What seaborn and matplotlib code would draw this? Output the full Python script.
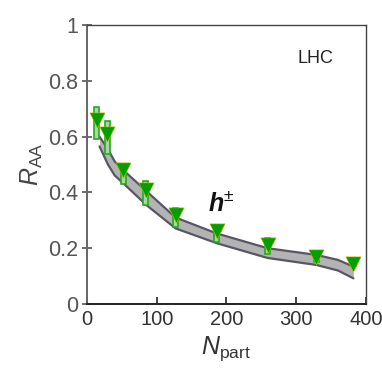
import numpy as np
import pandas as pd
import matplotlib
matplotlib.use("Agg")
import matplotlib.pyplot as plt
import seaborn as sns

# Data
npart = [14, 29, 52, 84, 127, 186, 259, 329, 382]
raa = [0.66, 0.61, 0.48, 0.41, 0.32, 0.26, 0.21, 0.17, 0.145]
sys_lo = [0.592, 0.538, 0.43, 0.355, 0.275, 0.223, 0.178, 0.152, 0.135]
sys_hi = [0.705, 0.655, 0.50, 0.44, 0.345, 0.275, 0.235, 0.19, 0.158]

band_x = [18, 30, 40, 52, 85, 127, 186, 259, 329, 360, 382]
band_hi = [0.60, 0.555, 0.51, 0.48, 0.405, 0.31, 0.253, 0.20, 0.176, 0.158, 0.134]
band_lo = [0.565, 0.50, 0.46, 0.433, 0.355, 0.271, 0.218, 0.165, 0.14, 0.12, 0.092]

sns.set_style("white")
plt.rcParams['font.family'] = ['Liberation Sans', 'DejaVu Sans']
plt.rcParams['mathtext.fontset'] = 'custom'
plt.rcParams['mathtext.rm'] = 'Liberation Sans'
plt.rcParams['mathtext.it'] = 'Liberation Sans:italic'
plt.rcParams['mathtext.bf'] = 'Liberation Sans:bold'
plt.rcParams['mathtext.bfit'] = 'Liberation Sans:bold:italic'
plt.rcParams['xtick.bottom'] = True
plt.rcParams['ytick.left'] = True

fig = plt.figure(figsize=(3.82, 3.75), dpi=100)
ax = fig.add_axes([0.2277, 0.1893, 0.958 - 0.2277, 0.9333 - 0.1893])

ax.fill_between(band_x, band_lo, band_hi, color="#b3b3b3", zorder=1, linewidth=0)
band_df = pd.DataFrame({"x": band_x + band_x,
                        "y": band_hi + band_lo,
                        "which": ["hi"] * len(band_x) + ["lo"] * len(band_x)})
sns.lineplot(data=band_df, x="x", y="y", units="which", estimator=None,
             color="#5a5566", linewidth=1.6, ax=ax, zorder=2)

h = [hi - lo for hi, lo in zip(sys_hi, sys_lo)]
ax.bar(npart, h, bottom=sys_lo, width=7, facecolor="#a8d8a0",
       edgecolor="#22aa22", linewidth=1.2, zorder=3)

pts = pd.DataFrame({"npart": npart, "raa": raa})
sns.scatterplot(data=pts, x="npart", y="raa", marker="v", s=120,
                color="#00a000", edgecolor="#c8b400", linewidth=0.4,
                ax=ax, zorder=4)

ax.set_xlim(0, 400)
ax.set_ylim(0, 1)
ax.set_xticks([0, 100, 200, 300, 400])
ax.set_yticks([0, 0.2, 0.4, 0.6, 0.8, 1])
ax.set_yticklabels(["0", "0.2", "0.4", "0.6", "0.8", "1"])
ax.tick_params(axis="x", direction="in", length=5, width=1.2, colors="#222222",
               labelsize=14.5, pad=4, bottom=True)
ax.tick_params(axis="y", direction="inout", length=7, width=1.2, colors="#555555",
               labelsize=15.5, labelcolor="#555555", pad=3, left=True)
ax.tick_params(axis="x", labelcolor="#333333")

for side in ["top", "right"]:
    ax.spines[side].set_color("#444444")
    ax.spines[side].set_linewidth(1.0)
ax.spines["left"].set_color("#666666")
ax.spines["left"].set_linewidth(1.4)
ax.spines["bottom"].set_color("#222222")
ax.spines["bottom"].set_linewidth(1.4)

ax.set_xlabel(r"$N_{\mathrm{part}}$", fontsize=18, color="#333333", labelpad=4)
ax.set_ylabel(r"$R_{\mathrm{AA}}$", fontsize=18, color="#444444", labelpad=2)

ax.text(327, 0.88, "LHC", fontsize=13, color="#222222", ha="center", va="center")
ax.text(193, 0.36, r"$\boldsymbol{h}^{\pm}$", fontsize=18, color="#111111",
        ha="center", va="center")

fig.savefig("out.png", dpi=100)
